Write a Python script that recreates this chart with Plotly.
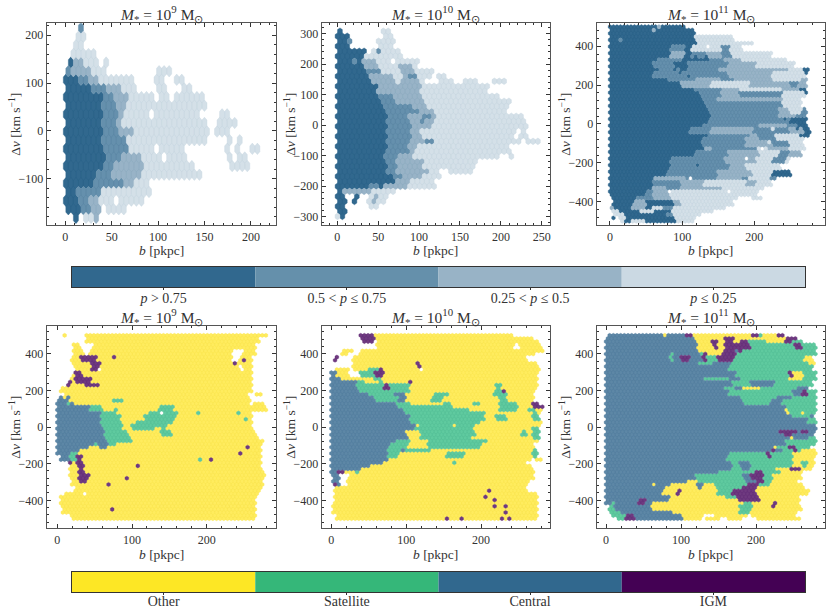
import plotly.graph_objects as go

W, H = 831, 614

# ---- classes
TOP_COLORS = {"D": "#31688e", "M": "#6590ad", "L": "#98b3c7", "V": "#d4e0e8"}
TOP_EDGES = {"D": "#2c6389", "M": "#5b87a5", "L": "#8dabc0", "V": "#c8d7e1"}
BOT_COLORS = {"O": "#ffec5e", "S": "#5fca9f", "C": "#5d87a6", "P": "#6f3a80"}
BOT_EDGES = {"O": "#fbe650", "S": "#55c197", "C": "#537d9e", "P": "#653078"}
TOP_BAR = ["#31688e", "#6590ab", "#98b3c6", "#cbd9e3"]
BOT_BAR = ["#fde725", "#35b779", "#31688e", "#440154"]
TOP_BAR_LABELS = ["<i>p</i> > 0.75", "0.5 < <i>p</i> ≤ 0.75", "0.25 < <i>p</i> ≤ 0.5", "<i>p</i> ≤ 0.25"]
BOT_BAR_LABELS = ["Other", "Satellite", "Central", "IGM"]
TITLES = ["9", "10", "11"]

# ---- rows: (delta v, "b0 class b1 class b2 ...")
P1_ROWS = [
 (215, "14 M 20"), (197, "12 V 22"), (179, "9 V 20"), (161, "6 V 33"),
 (143, "3 D 9 L 20 V 36 _ 42 V 47"), (125, "0 M 10 L 28 V 46 _ 100 V 112"),
 (107, "-3 D 14 M 27 L 40 V 76 _ 98 V 106 _ 120 V 126"),
 (89, "0 D 28 M 46 L 60 V 78 _ 100 V 110 _ 128 V 134"),
 (71, "0 D 41 M 54 L 68 V 98 _ 103 V 112 _ 120 V 142 _ 146 V 151"),
 (53, "0 D 41 M 56 L 66 V 150"),
 (35, "0 D 42 M 58 L 62 V 92 _ 97 V 146 _ 170 V 178"),
 (17, "0 D 42 M 58 L 64 V 155 _ 163 V 172 _ 178 V 184"),
 (-1, "0 D 42 M 60 L 76 V 155 _ 165 V 178"),
 (-19, "0 D 42 M 66 L 70 V 155 _ 176 V 180 _ 186 V 192"),
 (-37, "0 D 42 M 68 V 98 _ 103 V 130 _ 172 V 178 _ 183 V 188 _ 203 V 209"),
 (-55, "0 D 46 M 60 L 84 V 107 _ 112 V 130 _ 175 V 180 _ 185 V 195"),
 (-73, "0 D 42 M 52 L 84 V 138 _ 176 V 198"),
 (-91, "0 D 36 M 50 L 84 V 145"),
 (-109, "0 D 32 M 62 L 76 V 88"),
 (-127, "0 D 12 M 38 V 95"),
 (-145, "0 D 16 M 26 L 38 V 53 _ 58 V 85"),
 (-163, "2 D 17 _ 18 V 21 M 27 L 38 _ 46 V 68"),
 (-181, "9 D 14 _ 19 V 30 L 35"),
]
P2_ROWS = [
 (308, "2 D 7 _ 58 V 66"), (292, "0 D 14 L 16 _ 58 V 68"),
 (275, "0 D 16 M 18 _ 52 V 60 M 64 V 70"), (259, "0 D 14 _ 52 V 70"),
 (245, "0 D 36 _ 46 V 52 M 56 V 75"), (225, "0 D 32 V 50 L 55 V 80"),
 (210, "0 D 20 M 28 D 34 L 50 V 66 _ 70 V 100"),
 (195, "0 D 36 L 50 V 78 L 96 V 98"), (175, "0 D 38 M 55 V 80 L 98 V 120"),
 (155, "0 D 43 L 70 V 80 L 90 M 102 V 118 _ 125 V 136"),
 (140, "0 D 46 L 72 V 78 L 100 M 104 V 108 _ 125 V 142 _ 153 V 170 _ 190 V 207"),
 (120, "0 D 52 L 105 V 185"), (100, "0 D 54 M 72 L 106 V 200"),
 (82, "0 D 56 M 70 L 108 V 215"), (65, "0 D 60 M 95 L 112 V 208"),
 (50, "0 D 62 M 100 L 118 V 208"), (30, "0 D 63 M 88 L 108 M 118 L 122 V 228"),
 (12, "0 D 64 M 90 L 100 M 110 L 120 V 230"), (-10, "0 D 64 M 95 L 115 V 232"),
 (-25, "0 D 64 M 92 L 105 V 216 _ 225 V 232"),
 (-50, "0 D 62 M 92 L 110 M 118 V 222 _ 232 V 234 _ 240 V 246"),
 (-75, "0 D 62 M 90 L 98 V 212"), (-100, "0 D 58 M 78 L 92 V 200 _ 212 V 218"),
 (-125, "0 D 62 M 75 L 106 V 170"), (-150, "0 D 64 M 75 L 115 V 125 _ 135 V 165"),
 (-165, "0 D 68 M 80 L 105 V 125"), (-185, "0 D 74 L 90 V 120"),
 (-205, "0 D 42 M 50 D 60 L 86 V 120"), (-222, "0 D 8 L 18 D 22 L 44 V 70"),
 (-240, "1 D 12 _ 20 D 24 _ 40 V 44 L 52 V 60"), (-262, "2 D 12 _ 38 V 50"),
 (-280, "3 D 10"), (-300, "2 V 6 D 10"),
]
P3_ROWS = [
 (500, "0 D 105"), (470, "0 D 118"), (440, "0 D 118 V 170"), (410, "0 D 122 V 198"),
 (390, "0 D 85 M 105 D 115 V 155 M 168 V 182"),
 (360, "0 D 85 L 105 D 115 M 135 L 155 M 170 V 225"),
 (330, "0 D 68 M 100 D 135 M 160 L 185 V 245"),
 (310, "0 D 62 M 90 D 110 M 165 L 205 V 255"),
 (280, "0 D 70 M 100 D 108 M 150 L 250 V 270 D 276"),
 (260, "0 D 60 M 110 D 112 M 165 L 225 V 270"),
 (230, "0 D 80 M 120 L 155 M 175 L 228 V 265 L 272"),
 (200, "0 D 100 L 140 V 195 L 250 M 262 L 272"),
 (180, "0 D 118 M 155 L 180 V 240 L 262 D 272"),
 (150, "0 D 126 M 155 L 180 M 240 V 272"), (125, "0 D 130 M 150 L 240 V 265"),
 (100, "0 D 134 M 240 V 265"), (70, "0 D 138 M 235 L 250 V 268 M 274"),
 (40, "0 D 140 M 236 L 258 M 274"), (15, "0 D 138 M 250 D 274"),
 (-10, "0 D 115 M 120 D 130 M 210 L 245 M 260 D 276"),
 (-30, "0 D 112 M 140 L 200 M 250 L 270 D 276"),
 (-55, "0 D 135 M 195 L 205 M 235 V 262 D 276"),
 (-80, "0 D 128 M 190 L 210 M 232 V 270"),
 (-105, "0 D 128 M 190 L 225 M 250 V 268"),
 (-130, "0 D 130 L 140 M 205 V 220 L 250 V 270"),
 (-155, "0 D 118 M 165 L 210 V 235 M 250 L 265"),
 (-185, "0 D 85 M 160 L 205 V 225 M 245 V 250"),
 (-205, "0 D 85 M 170 L 190 V 235"), (-235, "0 D 85 M 165 L 190 V 240"),
 (-255, "0 D 80 M 150 L 200 V 225 D 250"),
 (-275, "0 D 60 L 105 M 150 L 185 M 195 V 222 M 232"),
 (-300, "0 D 60 M 100 L 130 V 190 L 205 V 225"),
 (-330, "0 D 60 L 80 M 100 L 155 V 215"), (-360, "0 D 50 M 62 L 85 V 205"),
 (-385, "3 D 40 M 60 L 85 V 175 _ 200 V 210"), (-410, "5 D 35 L 52 D 90 L 100 V 170"),
 (-430, "0 L 8 D 30 L 50 D 60 V 75 M 90 V 160"), (-450, "4 V 12 D 45 V 60 D 85 V 145"),
 (-470, "5 D 8 V 20 D 80 M 90 V 125"), (-490, "12 V 22 D 90 V 120"),
 (-505, "15 V 20 D 28 V 50 D 95 V 118"),
]
P4_ROWS = [
 (500, "38 O 280"), (470, "40 O 270"), (440, "22 O 30 _ 50 O 265"),
 (405, "22 O 35 _ 45 O 235 _ 250 O 265"), (378, "20 O 33 P 55 O 235 _ 245 O 262"),
 (350, "20 O 46 P 62 O 262"), (320, "25 O 46 P 54 _ 58 O 245 _ 250 O 262"),
 (285, "22 O 24 P 35 O 262"), (255, "20 O 24 P 48 O 262"), (235, "20 O 37 P 60 O 260"),
 (205, "4 O 260"), (180, "12 O 255 _ 265 O 272"), (150, "3 C 10 O 12 C 18 O 258"),
 (125, "1 C 14 S 18 C 22 O 255 _ 265 O 275"), (100, "0 C 45 S 62 O 78 S 82 O 137 S 157 O 280"),
 (85, "0 C 50 S 65 O 78 S 84 O 130 S 142 O 148 S 158 O 280"),
 (70, "0 C 58 S 82 O 126 S 137 _ 143 S 164 O 262"), (50, "0 C 60 S 85 O 118 S 160 O 262"),
 (30, "0 C 60 S 85 O 105 S 155 O 260"), (15, "0 C 62 S 90 O 100 S 150 O 258"),
 (0, "0 C 62 S 82 O 95 S 140 O 258"), (-15, "0 C 62 S 85 O 100 S 130 O 140 S 145 O 260"),
 (-35, "0 C 65 S 95 O 140 S 155 O 265"), (-55, "0 C 65 S 100 O 270"),
 (-75, "0 C 68 S 100 O 275"), (-90, "0 C 50 S 55 C 70 S 78 O 275"),
 (-110, "0 C 43 O 57 C 66 O 272"), (-130, "0 C 30 O 272"), (-150, "0 C 20 S 27 O 270"),
 (-170, "5 C 18 S 28 P 35 O 272"), (-190, "18 P 22 O 25 P 38 O 272"),
 (-215, "18 O 28 P 38 O 272"), (-235, "18 O 30 P 38 O 275"), (-268, "18 O 30 P 45 O 280"),
 (-285, "20 O 30 P 42 O 275"), (-310, "20 O 278"), (-340, "24 O 42 _ 45 O 272"),
 (-360, "12 O 35 _ 40 O 270"), (-400, "4 O 267"), (-450, "8 O 265"), (-500, "19 O 265"),
]
P5_ROWS = [
 (500, "40 P 60 O 245"), (480, "40 P 58 O 270"), (460, "45 P 58 _ 62 O 275"),
 (440, "62 O 245 _ 252 O 280"), (420, "14 O 28 _ 40 O 283"), (400, "16 O 24 _ 36 O 270"),
 (370, "30 O 262"), (340, "30 O 115 P 120 O 275"), (315, "8 O 24 _ 30 O 50 S 65 P 72 O 120 _ 125 O 280"),
 (290, "0 C 8 O 24 _ 40 S 60 P 72 O 275"), (265, "0 C 15 O 60 S 68 O 275"),
 (245, "0 C 38 S 45 O 65 S 70 O 275"), (220, "0 C 35 S 72 P 78 S 105 O 220 S 228 O 275"),
 (195, "0 C 40 S 105 O 218 S 228 P 235 O 270"), (175, "0 C 50 S 85 C 100 O 140 S 160 O 218 S 235 O 270"),
 (150, "0 C 60 S 90 C 100 O 135 S 150 O 225 S 235 O 270"),
 (130, "0 C 85 S 105 O 150 S 160 O 190 S 200 O 225 S 250 O 268 P 278"),
 (110, "0 C 88 S 165 O 225 S 250 O 272 P 283"), (90, "0 C 95 S 185 O 225 S 250 O 265 S 272 O 280"),
 (70, "0 C 100 S 205 O 270 S 278 O 280"), (50, "0 C 105 S 205 O 220 S 235 O 270 S 278"),
 (30, "0 C 108 S 200 O 280"), (0, "0 C 112 O 118 S 165 O 170 S 195 O 280"),
 (-15, "0 C 110 S 190 O 270 S 278"), (-35, "0 C 100 O 120 S 195 O 255 S 260 O 270 S 278"),
 (-55, "0 C 105 O 120 S 190 O 272 S 278"), (-80, "0 C 88 S 105 O 133 S 212 O 275"),
 (-100, "0 C 78 S 102 O 130 S 200 O 270 _ 276"), (-125, "0 C 75 S 95 C 100 S 132 O 270 S 276"),
 (-150, "0 C 75 S 90 O 155 S 180 O 270 S 276"), (-175, "0 C 78 O 265 _ 272 O 280"),
 (-195, "0 C 70 O 165 S 168 O 262 _ 270"), (-215, "0 C 55 O 265"), (-230, "0 C 40 O 270"),
 (-250, "0 C 10 P 20 O 35 S 38 O 270"), (-270, "2 C 12 _ 25 O 270"), (-290, "3 C 8 _ 22 O 265"),
 (-305, "3 P 8 C 12 _ 22 O 262"), (-340, "5 O 260"), (-380, "5 O 275"), (-445, "3 O 275"), (-500, "8 O 275"),
]
P6_ROWS = [
 (500, "5 C 105 P 115 O 195 P 205 S 210 O 228 P 238"),
 (480, "0 C 118 O 160 P 175 O 240 P 255"), (460, "0 C 120 O 140 P 150 O 160 P 170 O 180 P 190 S 215 O 240 P 250 S 260"),
 (440, "0 C 122 O 145 P 150 O 160 P 195 S 252 P 262 S 280"), (420, "0 C 125 O 160 P 175 C 178 P 185 S 280"),
 (400, "0 C 85 S 92 C 125 S 130 P 135 O 155 P 175 S 280"),
 (375, "0 C 85 S 92 C 100 P 112 C 130 P 135 S 150 P 172 S 265 O 275"),
 (350, "0 C 125 S 145 C 168 S 270 O 278"), (320, "0 C 165 S 275"),
 (290, "0 C 175 S 245 P 250 O 265 S 280"), (265, "0 C 130 S 165 C 180 S 245 O 262 S 280"),
 (240, "0 C 170 S 195 C 225 S 275"), (215, "0 C 160 S 175 C 185 O 205 S 255 C 270"),
 (190, "0 C 165 S 250 C 262 P 270 S 280"), (165, "0 C 180 S 230 C 250 S 280"),
 (140, "0 C 185 S 220 C 235 S 280"), (110, "0 C 240 S 280"),
 (90, "0 C 240 O 245 S 262 O 265 S 280"), (60, "0 C 250 S 275 C 278"), (30, "0 C 270 S 280"),
 (0, "0 C 280"), (-20, "0 C 230 P 255 C 262 P 270 C 280"), (-40, "0 C 240 P 250 C 262 P 265 C 275"),
 (-60, "0 C 245 O 252 C 270 S 280"), (-85, "0 C 240 S 280"), (-105, "0 C 225 O 230 S 245 P 255 S 270"),
 (-125, "0 C 220 P 225 C 235 S 250 P 255 S 262 O 278"), (-150, "0 C 165 S 215 P 220 S 250 O 280"),
 (-175, "0 C 160 S 250 O 275"), (-200, "0 C 170 S 180 C 195 S 250 O 262 S 270 O 278"),
 (-225, "0 C 170 S 185 C 195 S 225 O 245 P 260 O 275"), (-250, "0 C 150 S 200 P 210 S 235 O 262"),
 (-270, "0 C 120 S 185 C 195 P 210 S 222 O 260"), (-290, "0 C 110 O 125 S 190 C 200 P 210 S 220 O 255"),
 (-310, "0 C 85 O 120 C 130 O 145 S 190 P 205 S 220 O 260"), (-330, "0 C 80 O 125 C 130 O 150 S 185 P 200 O 265"),
 (-355, "0 C 75 O 95 P 100 O 150 S 170 P 200 O 270"), (-385, "0 C 85 O 160 S 175 P 205 O 255"),
 (-400, "0 C 45 P 55 C 85 O 178 P 205 O 260"), (-420, "0 C 10 S 15 C 45 P 55 C 65 O 183 S 195 O 222 P 228 O 255"),
 (-440, "4 S 12 C 62 O 180 S 195 O 260"), (-465, "5 S 20 C 30 P 32 C 90 O 180 S 195 O 255"),
 (-485, "8 S 30 P 40 C 100 O 130 _ 145 O 188 _ 195 O 250"), (-500, "15 S 28 P 42 C 105 O 125 _ 135 O 150 _ 165 O 180 _ 200 O 262"),
]

# ---- isolated hexagons: (b, delta v, class; "_" is an empty hole)
P1_DOTS = [(123, 107, "V"), (95, 35, "_"), (100, -37, "_"), (109, -55, "_"), (56, -145, "_")]
P2_DOTS = [(243, -50, "V"), (68, 210, "_")]
P3_DOTS = [(274, 270, "D"), (5, -430, "D"), (28, -500, "D"), (5, -480, "D"), (240, -250, "D"), (248, -250, "D"),
           (134, 398, "_"), (167, -354, "_"), (187, -185, "_"), (211, -134, "_"), (252, -203, "_"),
           (111, -283, "_"), (83, -343, "_"), (115, -14, "D"), (123, -215, "D"), (242, 17, "D"),
           (258, -22, "D"), (88, 280, "D"), (98, 270, "D"), (135, 345, "D"), (138, 330, "D"), (118, 340, "D"),
           (274, 160, "D"), (276, -50, "D"), (262, 180, "D"), (13, 440, "M"), (60, 480, "L"), (70, 500, "L"),
           (225, -30, "V"), (232, -60, "V"), (205, -170, "V"), (222, -90, "V")]
P4_DOTS = [(10, 500, "O"), (75, 375, "P"), (237, 340, "P"), (250, 357, "P"), (14, 235, "P"), (18, 250, "P"),
           (77, 142, "S"), (82, 142, "S"), (87, 142, "S"), (190, 70, "S"), (245, 70, "S"), (250, 50, "S"),
           (106, -215, "P"), (94, -287, "P"), (67, -322, "P"), (75, -447, "P"), (206, -180, "P"),
           (245, -143, "P"), (256, -108, "P"), (190, -180, "S"), (228, 430, "O")]
P5_DOTS = [(3, 365, "P"), (5, 375, "P"), (105, 250, "P"), (212, -355, "P"), (208, -375, "P"), (218, -393, "P"),
           (218, -427, "P"), (235, -427, "P"), (233, -460, "P"), (228, -500, "P"), (240, -500, "P"),
           (155, -500, "P"), (172, -500, "P"), (165, -195, "S"), (258, -35, "S")]
P6_DOTS = [(78, 500, "O"), (62, -320, "O"), (95, -360, "P"), (223, -430, "P"), (195, -440, "S")]

# ---- hexagon grids: b offset, b step, first delta v, delta v step, number of rows
P1_GRID = (0.6, 5.43, 215, 18.05, 23)
P2_GRID = (3.3, 5.9, 308, 16.4, 38)
P3_GRID = (0.0, 4.85, 500, 16.95, 60)
P4_GRID = (0.0, 4.9, 500, 16.95, 60)

# ---- axis ranges and ticks (xmin, xmax, ymin, ymax, xdtick, xminor, ydtick, yminor)
AXES = [
 (-20, 227, -197, 225, 50, 10, 100, 20),
 (-19, 260, -327, 334, 50, 10, 100, 20),
 (-18.4, 298, -520, 518, 100, 20, 200, 40),
 (-14.2, 292.8, -551, 551, 100, 20, 200, 40),
 (-12.9, 292, -551, 551, 100, 20, 200, 40),
 (-12.4, 292, -551, 551, 100, 20, 200, 40),
]
PANEL_BOX = [(46.7, 276, 23.3, 225), (321.7, 550, 23.3, 225), (596.7, 825, 23.3, 225),
             (46.7, 276, 326, 528), (321.7, 550, 326, 528), (596.7, 825, 326, 528)]
BAR_BOX = [(72, 805, 267, 287), (72, 805, 572, 592)]
BAR_STANDOFF = [-4, -6]
FRAME = "#555555"
TEXT = "#333333"
FONT = "Liberation Serif"


def classify(rows, dots, grid):
    xo, dx, y0, dy, n = grid
    cells = {}
    for k in range(n):
        y = y0 - k * dy
        offset = xo if k % 2 == 0 else xo - dx / 2
        _, spec = min(rows, key=lambda r: abs(r[0] - y))
        t = spec.split()
        for i in range(1, len(t) - 1, 2):
            a, c, b = float(t[i - 1]), t[i], float(t[i + 1])
            if c == "_":
                continue
            j = 0
            while offset + j * dx <= 300:
                x = offset + j * dx
                if a - dx * 0.3 <= x < b:
                    cells[(k, j)] = (x, y, c)
                j += 1
    for bx, vy, c in dots:
        k = max(0, min(n - 1, round((y0 - vy) / dy)))
        offset = xo if k % 2 == 0 else xo - dx / 2
        j = round((bx - offset) / dx)
        if c == "_":
            cells.pop((k, j), None)
        else:
            cells[(k, j)] = (offset + j * dx, y0 - k * dy, c)
    return list(cells.values())


def hex_traces(cells, grid, colors, edges, xa, ya):
    _, dx, _, dy, _ = grid
    hw, h1, h2 = dx / 2, dy * 2 / 3, dy / 3
    out = []
    for c, col in colors.items():
        xs, ys = [], []
        for x, y, cc in cells:
            if cc != c:
                continue
            xs += [x - hw, x - hw, x, x + hw, x + hw, x, x - hw, None]
            ys += [y - h2, y + h2, y + h1, y + h2, y - h2, y - h1, y - h2, None]
        if xs:
            out.append(go.Scatter(x=xs, y=ys, mode="lines", fill="toself", fillcolor=col,
                                  line=dict(color=edges[c], width=0.4), hoverinfo="skip",
                                  showlegend=False, xaxis=xa, yaxis=ya))
    return out


fig = go.Figure()
layout = dict(width=W, height=H, margin=dict(l=0, r=0, t=0, b=0), paper_bgcolor="white",
              plot_bgcolor="white", showlegend=False, font=dict(family=FONT, color=TEXT, size=12))
annots = []

panels = [(P1_ROWS, P1_DOTS, P1_GRID, TOP_COLORS, TOP_EDGES), (P2_ROWS, P2_DOTS, P2_GRID, TOP_COLORS, TOP_EDGES),
          (P3_ROWS, P3_DOTS, P3_GRID, TOP_COLORS, TOP_EDGES), (P4_ROWS, P4_DOTS, P4_GRID, BOT_COLORS, BOT_EDGES),
          (P5_ROWS, P5_DOTS, P4_GRID, BOT_COLORS, BOT_EDGES), (P6_ROWS, P6_DOTS, P4_GRID, BOT_COLORS, BOT_EDGES)]

for i, ((rows, dots, grid, colors, edges), ax, box) in enumerate(zip(panels, AXES, PANEL_BOX)):
    n = i + 1
    xa, ya = f"x{n}", f"y{n}"
    for tr in hex_traces(classify(rows, dots, grid), grid, colors, edges, xa, ya):
        fig.add_trace(tr)
    l, r, t, b = box
    common = dict(ticks="inside", ticklen=4, tickwidth=0.8, tickcolor="#333333", mirror="allticks",
                  showline=True, linecolor=FRAME, linewidth=1.2, showgrid=False, zeroline=False,
                  tickfont=dict(size=12, family=FONT, color=TEXT))
    minor = dict(ticks="inside", ticklen=2, tickwidth=0.6, tickcolor="#333333", showgrid=False)
    layout[f"xaxis{n}"] = dict(domain=[l / W, r / W], range=[ax[0], ax[1]], anchor=ya, dtick=ax[4], tick0=0,
                               minor=dict(dtick=ax[5], **minor), **common)
    layout[f"yaxis{n}"] = dict(domain=[1 - b / H, 1 - t / H], range=[ax[2], ax[3]], anchor=xa, dtick=ax[6], tick0=0,
                               minor=dict(dtick=ax[7], **minor), **common)
    cx = (l + r) / 2
    base = dict(xref="paper", yref="paper", showarrow=False, xanchor="center", yanchor="middle")
    annots.append(dict(text=f"<i>M</i><sub>*</sub> = 10<sup>{TITLES[i % 3]}</sup> M<sub>⊙</sub>",
                       x=cx / W, y=1 - (t - 9) / H, font=dict(size=15.5, family=FONT, color=TEXT), **base))
    annots.append(dict(text="<i>b</i> [pkpc]", x=cx / W, y=1 - (b + 26) / H,
                       font=dict(size=13.5, family=FONT, color=TEXT), **base))
    annots.append(dict(text="Δ<i>v</i> [km s<sup>−1</sup>]", x=(l - 32) / W, y=1 - ((t + b) / 2) / H,
                       textangle=-90, font=dict(size=13.5, family=FONT, color=TEXT), **base))

for j, (cols, labs, box) in enumerate(zip((TOP_BAR, BOT_BAR), (TOP_BAR_LABELS, BOT_BAR_LABELS), BAR_BOX)):
    n = 7 + j
    xa, ya = f"x{n}", f"y{n}"
    pos = [0.5, 1.5, 2.5, 3.5]
    fig.add_trace(go.Bar(x=pos, y=[1, 1, 1, 1], width=1, marker=dict(color=cols, line=dict(width=0)),
                         hoverinfo="skip", showlegend=False, xaxis=xa, yaxis=ya))
    l, r, t, b = box
    layout[f"xaxis{n}"] = dict(domain=[l / W, r / W], range=[0, 4], anchor=ya, tickmode="array", tickvals=pos,
                               ticktext=labs, ticks="outside", ticklen=2, tickwidth=0.8, tickcolor="#333333",
                               ticklabelstandoff=BAR_STANDOFF[j], showline=True, linecolor="#333333", linewidth=1,
                               mirror=True, showgrid=False, zeroline=False,
                               tickfont=dict(size=14, family=FONT, color=TEXT))
    layout[f"yaxis{n}"] = dict(domain=[1 - b / H, 1 - t / H], range=[0, 1], anchor=xa, showticklabels=False,
                               ticks="", showline=True, linecolor="#333333", linewidth=1, mirror=True,
                               showgrid=False, zeroline=False)

layout["annotations"] = annots
fig.update_layout(**layout)
fig.write_html("out.html", config={"displayModeBar": False}, post_script="document.body.style.margin='0';")
